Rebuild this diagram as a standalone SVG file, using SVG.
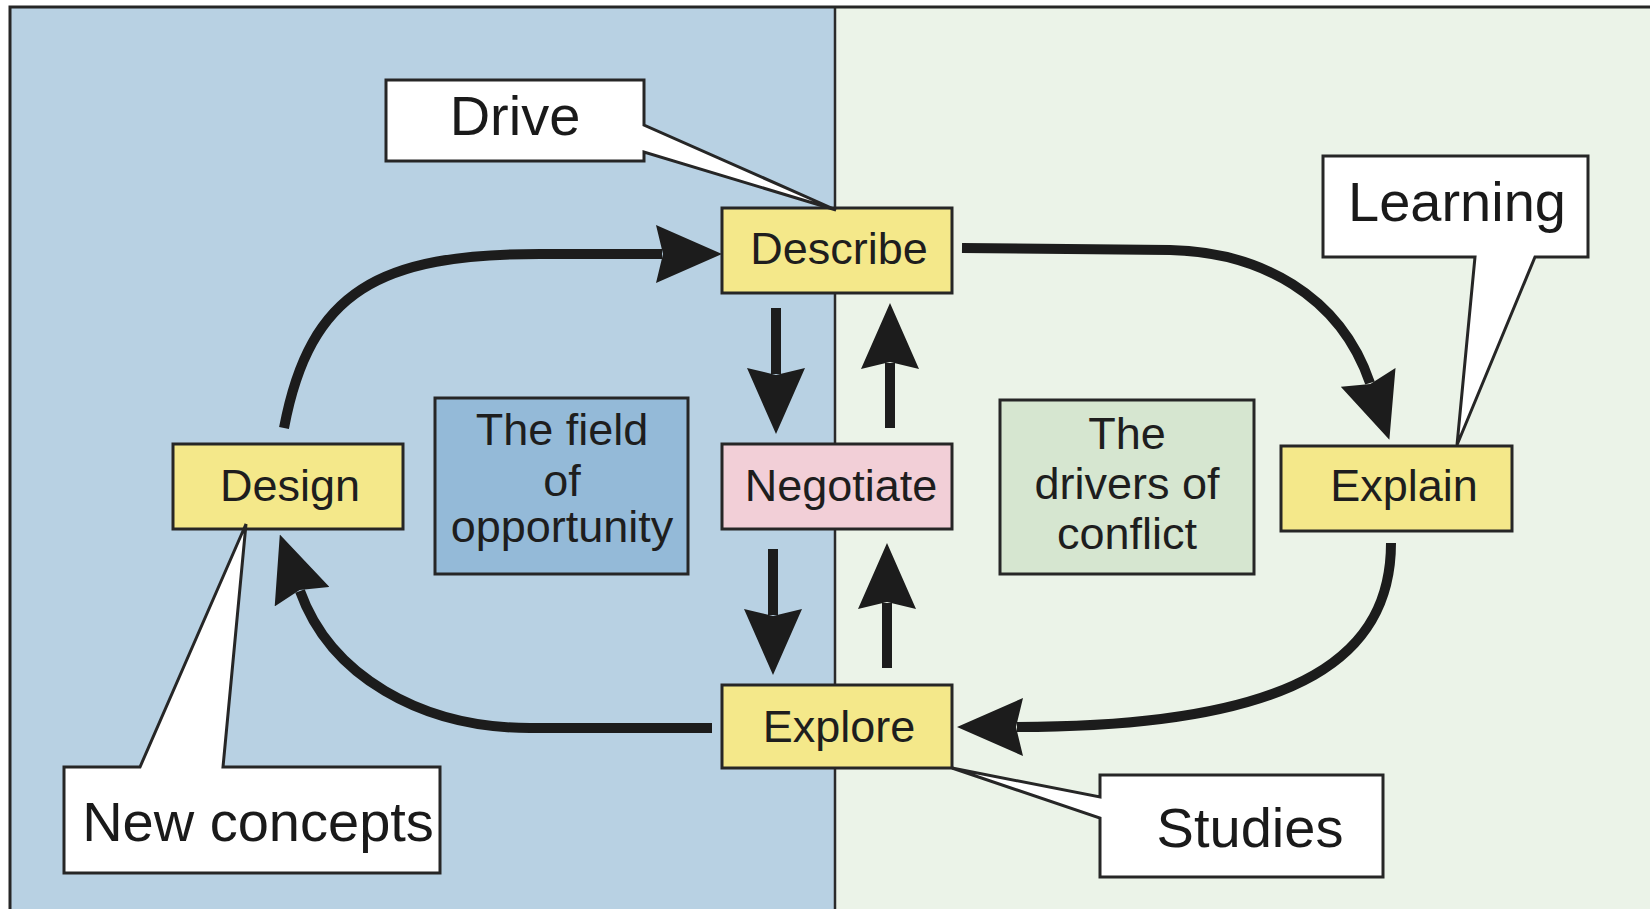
<svg xmlns="http://www.w3.org/2000/svg" width="1650" height="909" viewBox="0 0 1650 909">
<style>
.node{stroke:#262626;stroke-width:3}
.yellow{fill:#f4e88a}
.pink{fill:#f2cfd7}
.field{fill:#94bad8}
.drivers{fill:#d6e6d0}
.callout{fill:#ffffff;stroke:#262626;stroke-width:3;stroke-linejoin:miter}
.lbl{font-family:"Liberation Sans",Arial,Helvetica,sans-serif;font-size:45px;fill:#1e1e1e;text-anchor:middle}
.big{font-family:"Liberation Sans",Arial,Helvetica,sans-serif;font-size:56px;fill:#1a1a1a;text-anchor:middle}
.arrow{fill:none;stroke:#1c1c1c;stroke-width:10;marker-end:url(#head)}
</style>
<defs>
<marker id="head" viewBox="0 0 66 58" markerUnits="userSpaceOnUse" markerWidth="66" markerHeight="58" refX="6" refY="29" orient="auto">
<path d="M0,0 L66,29 L0,58 L7,29 Z" fill="#1c1c1c"/>
</marker>
</defs>
<g id="background">
<rect x="10" y="7" width="825" height="910" fill="#b8d1e3"/>
<rect x="835" y="7" width="830" height="910" fill="#ebf3e8"/>
<line x1="835" y1="7" x2="835" y2="909" stroke="#2a2a2a" stroke-width="2.5"/>
<rect x="10" y="7" width="1660" height="920" fill="none" stroke="#262626" stroke-width="3"/>
</g>
<g id="connectors">
<path class="arrow" d="M284 428 C310 290 380 254 540 254 L662 254"/>
<path class="arrow" d="M962 248 L1170 250 C1260 252 1340 295 1370 383"/>
<path class="arrow" d="M1391 543 C1391 650 1310 727 1017 727"/>
<path class="arrow" d="M712 728 L530 728 C420 728 330 675 300 591"/>
<path class="arrow" d="M776 308 L776 374"/>
<path class="arrow" d="M890 428 L890 363"/>
<path class="arrow" d="M773 549 L773 615"/>
<path class="arrow" d="M887 668 L887 603"/>
</g>
<g id="field">
<rect class="node field" x="435" y="398" width="253" height="176"/>
<text class="lbl" x="562" y="445">The field</text>
<text class="lbl" x="562" y="496">of</text>
<text class="lbl" x="562" y="542">opportunity</text>
</g>
<g id="drivers">
<rect class="node drivers" x="1000" y="400" width="254" height="174"/>
<text class="lbl" x="1127" y="449">The</text>
<text class="lbl" x="1127" y="499">drivers of</text>
<text class="lbl" x="1127" y="549">conflict</text>
</g>
<g id="describe">
<rect class="node yellow" x="722" y="208" width="230" height="85"/>
<text class="lbl" x="839" y="264">Describe</text>
</g>
<g id="negotiate">
<rect class="node pink" x="722" y="444" width="230" height="85"/>
<text class="lbl" x="841" y="501">Negotiate</text>
</g>
<g id="explore">
<rect class="node yellow" x="722" y="685" width="230" height="83"/>
<text class="lbl" x="839" y="742">Explore</text>
</g>
<g id="design">
<rect class="node yellow" x="173" y="444" width="230" height="85"/>
<text class="lbl" x="290" y="501">Design</text>
</g>
<g id="explain">
<rect class="node yellow" x="1281" y="446" width="231" height="85"/>
<text class="lbl" x="1404" y="501">Explain</text>
</g>
<g id="drive">
<polygon class="callout" points="386,80 644,80 644,125 836,210 644,152 644,161 386,161"/>
<text class="big" x="515" y="135">Drive</text>
</g>
<g id="learning">
<polygon class="callout" points="1323,156 1588,156 1588,257 1535,257 1457,445 1475,257 1323,257"/>
<text class="big" x="1457" y="221">Learning</text>
</g>
<g id="new-concepts">
<polygon class="callout" points="64,767 140,767 246,524 223,767 440,767 440,873 64,873"/>
<text class="big" x="258" y="841">New concepts</text>
</g>
<g id="studies">
<polygon class="callout" points="1100,775 1383,775 1383,877 1100,877 1100,818 952,768 1100,797"/>
<text class="big" x="1250" y="847">Studies</text>
</g>
</svg>
